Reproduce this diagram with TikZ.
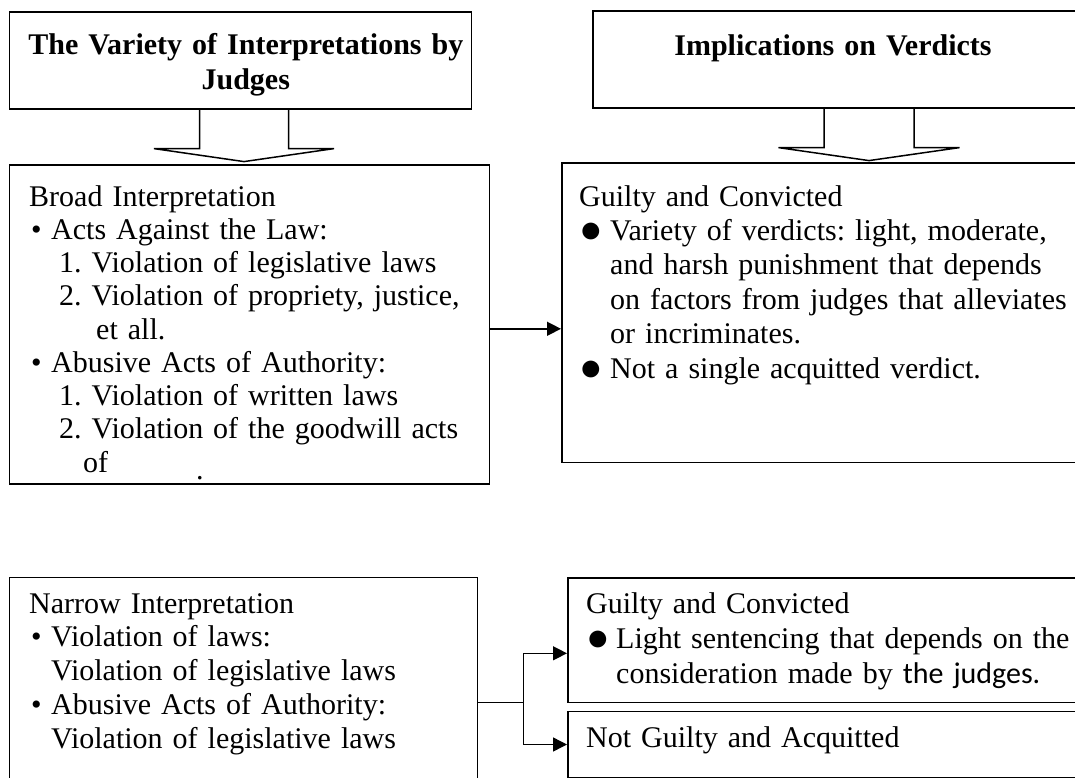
\documentclass[tikz,border=0pt]{standalone}
\usepackage{fontspec}
\usepackage{graphicx}
\setmainfont{Liberation Serif}
\newfontfamily\carl{Carlito}
\usetikzlibrary{arrows.meta,calc}
\newcommand{\bigdot}{\raisebox{-2pt}{\scalebox{1.3}{●}}}
\begin{document}
\frenchspacing
\begin{tikzpicture}[x=1pt,y=-1pt,
  box/.style={draw=black,line width=1.6pt,rectangle,inner sep=0pt,anchor=north west},
  txt/.style={inner sep=0pt,text width=500pt,align=left,anchor=base west,font=\fontsize{30pt}{#1}\selectfont\frenchspacing},
  ttl/.style={inner sep=0pt,text width=470pt,align=center,anchor=base,font=\fontsize{30pt}{35pt}\selectfont\bfseries},
  conn/.style={line width=1.4pt,-{Triangle[length=14pt,width=14pt]}},
  plain/.style={line width=1.4pt},
  blk/.style={line width=1.5pt,line join=miter}]

\useasboundingbox (0,0) rectangle (1075,778);
\clip (0,0) rectangle (1075,778);

% boxes
\node[box,minimum width=462pt,minimum height=97pt] (t1) at (8.6,11) {};
\node[box,minimum width=500pt,minimum height=97pt] (t2) at (592,10) {};
\node[box,minimum width=480pt,minimum height=319pt] (broad) at (8.6,164) {};
\node[box,minimum width=529pt,minimum height=299pt] (guilty) at (561,162.5) {};
\node[box,minimum width=468pt,minimum height=250pt] (narrow) at (8.6,576.7) {};
\node[box,minimum width=523pt,minimum height=124.4pt] (gc2) at (567,577.3) {};
\node[box,minimum width=523pt,minimum height=66pt] (ng) at (567,710.7) {};

% titles
\node[ttl] (t1txt) at (245.8,55) {The Variety of Interpretations by\\Judges};
\node[ttl] (t2txt) at (833,56) {Implications on Verdicts};

% block arrows
\coordinate (c1) at (244,0 |- t1.south);
\draw[blk] ([xshift=-44.5pt]c1) -- ++(0,39) -- ++(-45.5,0) -- ++(90,13) -- ++(90,-13) -- ++(-45.5,0) -- ++(0,-39);
\coordinate (c2) at (869,0 |- t2.south);
\draw[blk] ([xshift=-45pt]c2) -- ++(0,39) -- ++(-45.5,0) -- ++(90.5,13) -- ++(90.5,-13) -- ++(-45.5,0) -- ++(0,-39);

% texts
\node[txt=33.25pt] (broadtxt) at (29,206) {Broad Interpretation\\
\hspace*{2pt}\makebox[20pt][l]{•}Acts Against the Law:\\
\hspace*{30pt}1. Violation of legislative laws\\
\hspace*{30pt}2. Violation of propriety, justice,\\
\hspace*{67pt}et all.\\
\hspace*{2pt}\makebox[20pt][l]{•}Abusive Acts of Authority:\\
\hspace*{30pt}1. Violation of written laws\\
\hspace*{30pt}2. Violation of the goodwill acts\\
\hspace*{54pt}of};
\node[txt=30pt] (dot) at (196,479) {.};

\node[txt=34.4pt] (guiltytxt) at (579,206) {Guilty and Convicted\\
\makebox[31pt][l]{\bigdot}Variety of verdicts: light, moderate,\\
\hspace*{31pt}and harsh punishment that depends\\
\hspace*{31pt}on factors from judges that alleviates\\
\hspace*{31pt}or incriminates.\\
\makebox[31pt][l]{\bigdot}Not a single acquitted verdict.};

\node[txt=33.75pt] (narrowtxt) at (29,613) {Narrow Interpretation\\
\hspace*{2pt}\makebox[20pt][l]{•}Violation of laws:\\
\hspace*{22pt}Violation of legislative laws\\
\hspace*{2pt}\makebox[20pt][l]{•}Abusive Acts of Authority:\\
\hspace*{22pt}Violation of legislative laws};

\node[txt=35pt] (gc2txt) at (586,613) {Guilty and Convicted\\
\makebox[30pt][l]{\bigdot}Light sentencing that depends on the\\
\hspace*{30pt}consideration made by {\carl the judges.}};

\node[txt=35pt] (ngtxt) at (586,747) {Not Guilty and Acquitted};

% connectors
\coordinate (a1) at ([yshift=-4.5pt]broad.east);
\draw[conn] (a1) -- (a1 -| guilty.west);
\coordinate (j) at ([xshift=45pt]narrow.east);
\draw[plain] (narrow.east) -- (j);
\draw[conn] (j) |- ([yshift=-13pt]gc2.west);
\draw[conn] (j) |- (ng.west);
\end{tikzpicture}
\end{document}
